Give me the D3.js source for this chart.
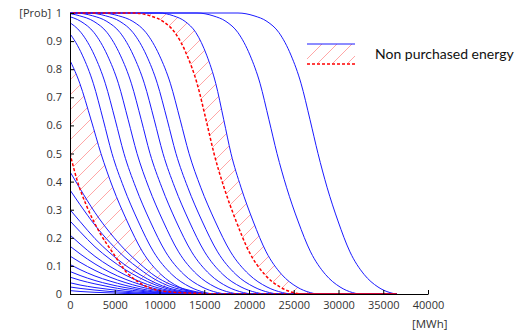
<!DOCTYPE html>
<html>
<head>
<meta charset="utf-8">
<script src="https://cdn.jsdelivr.net/npm/d3@7"></script>
<style>
  body { margin: 0; background: #fff; }
</style>
</head>
<body>
<svg id="chart" width="520" height="333"></svg>
<script>
const xTicks = [0, 5000, 10000, 15000, 20000, 25000, 30000, 35000, 40000];
const yTicks = [0, 0.1, 0.2, 0.3, 0.4, 0.5, 0.6, 0.7, 0.8, 0.9, 1];

// S-shaped curves: MWh where each curve passes these probabilities.
// Negative MWh = part of the curve left of the axis (clipped away).
const probLevels = [1, 0.99, 0.97, 0.93, 0.85, 0.75, 0.62, 0.5, 0.38, 0.26, 0.15, 0.07, 0.025, 0.005, 0];
const curveB83 = [-7700, -5500, -3660, -1980, -310, 1090, 2350, 3460, 4770, 6370, 8110, 10150, 12180, 13920, 14940];
const curveF1 = [-5140, -3170, -1580, -100, 1380, 2600, 3710, 4690, 6000, 7600, 9340, 11370, 13410, 15150, 16170];
const curveF2 = [-3800, -1830, -240, 1240, 2720, 3940, 5050, 6030, 7340, 8940, 10680, 12710, 14750, 16490, 17510];
const curveF3 = [-2350, -380, 1220, 2690, 4170, 5400, 6500, 7490, 8790, 10390, 12130, 14170, 16200, 17940, 18960];
const curveF4 = [-890, 1070, 2670, 4150, 5620, 6850, 7960, 8940, 10250, 11840, 13590, 15620, 17650, 19400, 20410];
const curveF5 = [560, 2530, 4120, 5600, 7070, 8300, 9410, 10390, 11700, 13300, 15040, 17070, 19110, 20850, 21870];
const curveF6 = [2010, 3980, 5580, 7050, 8530, 9750, 10860, 11840, 13150, 14750, 16490, 18520, 20560, 22300, 23320];
const curveL1 = [3460, 5430, 7030, 8500, 9980, 11210, 12310, 13300, 14600, 16200, 17940, 19980, 22010, 23750, 24770];
const curveR3 = [9940, 11550, 12860, 14070, 15270, 16280, 17180, 17990, 19100, 20450, 21920, 23640, 25360, 26840, 27700];
const curveR2 = [14190, 15980, 17430, 18770, 20110, 21230, 22230, 23130, 24190, 25470, 26880, 28530, 30170, 31570, 32400];
const curveR1 = [18770, 20560, 22010, 23350, 24690, 25810, 26820, 27710, 28720, 29940, 31280, 32850, 34410, 35750, 36540];
const redUpper = [7150, 8940, 10390, 11730, 13070, 14190, 15200, 16090, 17200, 18550, 20020, 21740, 23460, 24940, 25800];

// low curves starting under 0.5, sampled on a common MWh grid
const lowGrid = [0, 1120, 2790, 4470, 6150, 7820, 9500, 11170, 13410, 16200];
const lowCurves = [
  [0.435, 0.375, 0.29, 0.218, 0.157, 0.107, 0.064, 0.035, 0.013, 0],
  [0.37, 0.318, 0.245, 0.183, 0.13, 0.088, 0.052, 0.027, 0.01, 0],
  [0.30, 0.258, 0.197, 0.146, 0.103, 0.069, 0.04, 0.02, 0.007, 0],
  [0.26, 0.222, 0.168, 0.124, 0.087, 0.057, 0.033, 0.016, 0.005, 0],
  [0.21, 0.178, 0.134, 0.098, 0.068, 0.044, 0.025, 0.012, 0.004, 0],
  [0.17, 0.143, 0.107, 0.077, 0.053, 0.034, 0.019, 0.009, 0.003, 0],
  [0.135, 0.113, 0.084, 0.06, 0.041, 0.026, 0.014, 0.007, 0.002, 0],
  [0.105, 0.087, 0.064, 0.046, 0.031, 0.019, 0.01, 0.005, 0.001, 0],
  [0.08, 0.066, 0.048, 0.034, 0.023, 0.014, 0.007, 0.003, 0, 0],
  [0.06, 0.049, 0.036, 0.025, 0.016, 0.01, 0.005, 0.002, 0, 0],
  [0.04, 0.032, 0.023, 0.016, 0.01, 0.006, 0.003, 0.001, 0, 0],
  [0.025, 0.02, 0.014, 0.009, 0.006, 0.003, 0.001, 0, 0, 0],
  [0.012, 0.009, 0.006, 0.004, 0.002, 0.001, 0, 0, 0, 0]
];

// lower red dashed curve [MWh, prob]
const redLower = [[0,0.5],[780,0.406],[1900,0.31],[3350,0.217],[4800,0.146],[6370,0.075],[7820,0.039],[9720,0.014],[12290,0.005],[17870,0]];

const xStart = -12000;   // curves held at 1 before this
const xEnd = 36500;      // all curves lie on 0 up to here

const sCurve = mwh => [[xStart, 1]].concat(mwh.map((v, i) => [v, probLevels[i]]), [[xEnd, 0]]);
const lowCurve = vals => vals.map((v, i) => [lowGrid[i], v]).concat([[xEnd, 0]]);

const blueS = [curveB83, curveF1, curveF2, curveF3, curveF4, curveF5, curveF6, curveL1, curveR3, curveR2, curveR1].map(sCurve);
const blueCurves = blueS.concat(lowCurves.map(lowCurve));
const redCurves = [sCurve(redUpper), redLower.concat([[xEnd, 0]])];
// hatched pairs: [blue above, red below]
const hatchPairs = [[blueS[0], redCurves[1]], [blueS[8], redCurves[0]]];

const svg = d3.select('#chart');
const x = d3.scaleLinear().domain([0, 40000]).range([70, 428]);
const y = d3.scaleLinear().domain([0, 1]).range([294, 13]);

const blue = '#1a1aff';
const red = '#ff0000';
const hatchColor = '#ff9c9c';
const tickFont = '"Open Sans", sans-serif';

const defs = svg.append('defs');
defs.append('pattern')
  .attr('id', 'hatch')
  .attr('patternUnits', 'userSpaceOnUse')
  .attr('width', 15).attr('height', 15)
  .append('path')
  .attr('d', 'M-2,17 L17,-2 M-2,2 L2,-2 M13,17 L17,13')
  .attr('stroke', hatchColor)
  .attr('stroke-width', 0.9);

defs.append('clipPath')
  .attr('id', 'plot')
  .append('rect')
  .attr('x', x(0)).attr('y', y(1) - 3)
  .attr('width', x(40000) - x(0)).attr('height', y(0) - y(1) + 6);

const line = d3.line()
  .x(d => x(d[0]))
  .y(d => y(d[1]))
  .curve(d3.curveMonotoneX);

const areaUnder = d3.area()
  .x(d => x(d[0]))
  .y0(y(0))
  .y1(d => y(d[1]))
  .curve(d3.curveMonotoneX);

const areaOver = d3.area()
  .x(d => x(d[0]))
  .y0(y(1))
  .y1(d => y(d[1]))
  .curve(d3.curveMonotoneX);

const plot = svg.append('g').attr('clip-path', 'url(#plot)');

// hatch = area above red, clipped to area under blue
hatchPairs.forEach(([b, r], i) => {
  defs.append('clipPath')
    .attr('id', 'under' + i)
    .append('path')
    .attr('d', areaUnder(b));
  plot.append('path')
    .attr('d', areaOver(r))
    .attr('fill', 'url(#hatch)')
    .attr('clip-path', `url(#under${i})`);
});

plot.append('g')
  .selectAll('path')
  .data(blueCurves)
  .enter()
    .append('path')
    .attr('d', line)
    .attr('fill', 'none')
    .attr('stroke', blue)
    .attr('stroke-width', 1);

plot.append('g')
  .selectAll('path')
  .data(redCurves)
  .enter()
    .append('path')
    .attr('d', line)
    .attr('fill', 'none')
    .attr('stroke', red)
    .attr('stroke-width', 1.5)
    .attr('stroke-dasharray', '3,2');

// axes, ticks point inward like matlab
const xAxis = svg.append('g')
  .attr('transform', `translate(0,${y(0)})`)
  .call(d3.axisBottom(x).tickValues(xTicks).tickFormat(d3.format('d')).tickSize(-4).tickSizeOuter(0).tickPadding(7));

const yAxis = svg.append('g')
  .attr('transform', `translate(${x(0)},0)`)
  .call(d3.axisLeft(y).tickValues(yTicks).tickFormat(d3.format('~g')).tickSize(-4).tickSizeOuter(0).tickPadding(8));

[xAxis, yAxis].forEach(g => {
  g.selectAll('text').style('font-family', tickFont).style('font-size', '11px').attr('fill', '#333');
  g.select('.domain').attr('stroke', '#000');
  g.selectAll('.tick line').attr('stroke', '#000');
});

svg.append('text')
  .attr('x', 51).attr('y', 17)
  .attr('text-anchor', 'end')
  .style('font-family', tickFont)
  .style('font-size', '11px')
  .attr('fill', '#333')
  .text('[Prob]');

svg.append('text')
  .attr('x', 412).attr('y', 328)
  .style('font-family', tickFont)
  .style('font-size', '11.5px')
  .attr('fill', '#333')
  .text('[MWh]');

// legend
const legend = svg.append('g').attr('transform', 'translate(307,44)');
legend.append('rect')
  .attr('width', 48).attr('height', 20)
  .attr('fill', 'url(#hatch)');
legend.append('line')
  .attr('x2', 48)
  .attr('stroke', blue);
legend.append('line')
  .attr('x2', 48).attr('y1', 20).attr('y2', 20)
  .attr('stroke', red)
  .attr('stroke-width', 1.5)
  .attr('stroke-dasharray', '3,2');
legend.append('text')
  .attr('x', 68).attr('y', 15)
  .style('font-family', 'Lato, sans-serif')
  .style('font-size', '14px')
  .attr('fill', '#111')
  .text('Non purchased energy');
</script>
</body>
</html>
